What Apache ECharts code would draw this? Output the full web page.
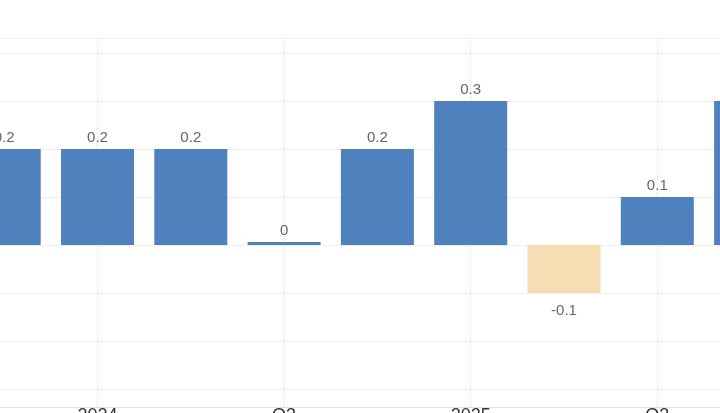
<!DOCTYPE html>
<html>
<head>
<meta charset="utf-8">
<script src="https://cdn.jsdelivr.net/npm/echarts@6/dist/echarts.min.js"></script>
<style>
  html, body { margin: 0; padding: 0; background: #fff; }
  #chart { width: 720px; height: 413px; }
</style>
</head>
<body>
<div id="chart"></div>
<script>
// quarters visible in the crop (first and last are cut by the frame)
const categories = ["Q4", "2024", "Q2", "Q3", "Q4", "2025", "Q2", "Q3", "Q4"];
const values = [0.2, 0.2, 0.2, 0, 0.2, 0.3, -0.1, 0.1, 0.3];

const blue = "#4f81bd";
const wheat = "#f5deb3";

const chart = echarts.init(document.getElementById("chart"));

const barData = values.map((v) => ({
  value: v,
  itemStyle: { color: v < 0 ? wheat : blue },
  label: v < 0 ? { position: "bottom", distance: 10 } : { position: "top", distance: 4 },
}));

const gridLine = { show: true, lineStyle: { color: "#dedede", type: "dotted", width: 1 } };
const hidden = { show: false };

// the chart is cropped: category centers run from x≈4 to x≈750
const step = 93.3;
const wideLeft = 4.2 - step / 2;

const option = {
  animation: false,
  textStyle: { fontFamily: "Arial, 'Liberation Sans', sans-serif" },
  grid: [
    // bars + horizontal value lines
    { left: wideLeft, width: step * 9, top: 53, bottom: 24, outerBoundsMode: "none" },
    // top line and axis line of the frame
    { left: wideLeft, width: step * 9, top: 38, bottom: 6, outerBoundsMode: "none" },
    // vertical lines and x labels
    { left: 4.2, width: step * 8, top: 38, bottom: 6, outerBoundsMode: "none" },
  ],
  xAxis: [
    {
      gridIndex: 0,
      type: "category",
      data: categories,
      axisLine: hidden,
      axisTick: hidden,
      axisLabel: hidden,
      splitLine: hidden,
    },
    {
      gridIndex: 1,
      type: "category",
      data: categories,
      axisLine: { show: true, lineStyle: { color: "#e0e0e0" } },
      axisTick: hidden,
      axisLabel: hidden,
      splitLine: hidden,
    },
    {
      gridIndex: 2,
      type: "category",
      data: categories,
      boundaryGap: false,
      axisLine: hidden,
      axisTick: hidden,
      axisLabel: {
        interval: (idx) => idx % 2 === 1,
        margin: 0,
        fontSize: 18,
        color: "#333",
      },
      splitLine: Object.assign({ interval: (idx) => idx % 2 === 1 }, gridLine),
    },
  ],
  yAxis: [
    {
      gridIndex: 0,
      type: "value",
      min: -0.3,
      max: 0.4,
      interval: 0.1,
      axisLine: hidden,
      axisTick: hidden,
      axisLabel: hidden,
      splitLine: gridLine,
    },
    {
      gridIndex: 1,
      type: "value",
      min: 0,
      max: 1,
      interval: 1,
      axisLine: hidden,
      axisTick: hidden,
      axisLabel: hidden,
      splitLine: gridLine,
    },
    {
      gridIndex: 2,
      type: "value",
      min: 0,
      max: 1,
      axisLine: hidden,
      axisTick: hidden,
      axisLabel: hidden,
      splitLine: hidden,
    },
  ],
  series: [
    {
      type: "bar",
      xAxisIndex: 0,
      yAxisIndex: 0,
      data: barData,
      barWidth: 73,
      barMinHeight: 3,
      clip: false,
      label: {
        show: true,
        fontSize: 15,
        color: "#666",
      },
    },
  ],
};

chart.setOption(option);
</script>
</body>
</html>
